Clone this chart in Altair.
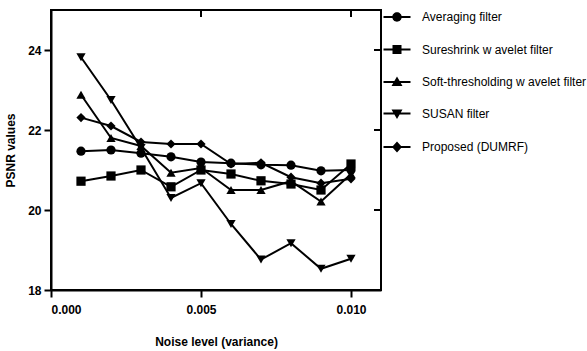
import altair as alt
import pandas as pd

# Noise variance levels and PSNR of each filter
noise = [0.001, 0.002, 0.003, 0.004, 0.005, 0.006, 0.007, 0.008, 0.009, 0.010]
averaging = [21.47, 21.50, 21.42, 21.33, 21.20, 21.17, 21.13, 21.12, 20.98, 21.00]
sureshrink = [20.72, 20.85, 21.00, 20.58, 21.00, 20.90, 20.73, 20.65, 20.50, 21.15]
soft_thresh = [22.88, 21.80, 21.60, 20.93, 21.05, 20.50, 20.50, 20.72, 20.21, 20.90]
susan = [23.82, 22.75, 21.55, 20.30, 20.67, 19.65, 18.76, 19.17, 18.53, 18.78]
proposed = [22.31, 22.10, 21.70, 21.65, 21.65, 21.15, 21.18, 20.82, 20.67, 20.78]

methods = [
    "Averaging filter",
    "Sureshrink w avelet filter",
    "Soft-thresholding w avelet  filter",
    "SUSAN filter",
    "Proposed (DUMRF)",
]
series = [averaging, sureshrink, soft_thresh, susan, proposed]

x_ticks = [0.0, 0.005, 0.010]
y_ticks = [18, 20, 22, 24]

rows = []
for name, vals in zip(methods, series):
    for n, v in zip(noise, vals):
        rows.append({"noise": n, "psnr": v, "method": name})
df = pd.DataFrame(rows)

marker_shapes = ["circle", "square", "triangle-up", "triangle-down", "diamond"]
# legend glyphs: a thin filled bar (the line) with the marker in the middle,
# every sub-path wound clockwise so the filled union stays solid
BAR = "M-1.35,-0.1H1.35V0.1H-1.35Z"
legend_shapes = [
    BAR + "M0.47,0A0.47,0.47,0,1,1,-0.47,0A0.47,0.47,0,1,1,0.47,0Z",
    BAR + "M-0.45,-0.45H0.45V0.45H-0.45Z",
    BAR + "M0,-0.55L0.55,0.4H-0.55Z",
    BAR + "M0,0.55L-0.55,-0.4H0.55Z",
    BAR + "M0,-0.55L0.5,0L0,0.55L-0.5,0Z",
]

FONT = "Liberation Sans"
x_dom = alt.Scale(domain=[0, 0.011], nice=False, zero=False)
y_dom = alt.Scale(domain=[18, 25], nice=False, zero=False)

axis_style = dict(
    grid=False,
    domainColor="black",
    domainWidth=2,
    tickColor="black",
    tickWidth=2,
    tickSize=7,
    labelFont=FONT,
    labelFontWeight="bold",
    labelFontSize=12,
    labelColor="black",
    titleFont=FONT,
    titleFontWeight="bold",
    titleFontSize=12,
    titleColor="black",
)

X = alt.X(
    "noise:Q",
    scale=x_dom,
    axis=alt.Axis(
        values=x_ticks, format=".3f", title="Noise level (variance)",
        labelPadding=7, titlePadding=21, **axis_style,
    ),
)
Y = alt.Y(
    "psnr:Q",
    scale=y_dom,
    axis=alt.Axis(
        values=y_ticks, format="d", title="PSNR values",
        labelPadding=3, titlePadding=10, **axis_style,
    ),
)

base = alt.Chart(df)

lines = base.mark_line(color="black", strokeWidth=2).encode(
    x=X, y=Y, detail="method:N"
)

# one marker layer per filter, each with its own symbol
marker_layers = [
    base.transform_filter(alt.datum.method == name)
    .mark_point(shape=shape, filled=True, color="black", opacity=1, size=85)
    .encode(x=X, y=Y)
    for name, shape in zip(methods, marker_shapes)
]

# inward ticks on the top and right edges of the frame
top_ticks = (
    alt.Chart(pd.DataFrame({"noise": x_ticks[1:]}))
    .mark_rule(color="black", strokeWidth=2)
    .encode(x=X, y=alt.value(0), y2=alt.value(7))
)
right_ticks = (
    alt.Chart(pd.DataFrame({"psnr": y_ticks[1:]}))
    .mark_rule(color="black", strokeWidth=2)
    .encode(y=Y, x=alt.value(323), x2=alt.value(330))
)

legend_layer = (
    base.transform_filter("false")
    .mark_point(filled=True, color="black", opacity=1, size=400)
    .encode(
        x=X,
        y=Y,
        shape=alt.Shape(
            "method:N",
            scale=alt.Scale(domain=methods, range=legend_shapes),
            legend=alt.Legend(
                title=None, orient="none", legendX=335, legendY=-4,
                symbolSize=400, symbolFillColor="black",
                symbolOpacity=1, labelOffset=14,
                labelFont=FONT, labelFontSize=12, labelColor="black",
                rowPadding=13.5, padding=0, labelLimit=300,
            ),
        ),
    )
)

chart = (
    alt.layer(lines, *marker_layers, top_ticks, right_ticks, legend_layer)
    .properties(
        width=330,
        height=280,
        background="white",
        autosize=alt.AutoSizeParams(type="none"),
        padding={"left": 51, "top": 10, "right": 206, "bottom": 61},
    )
    .configure_view(stroke="black", strokeWidth=2)
)

chart.save("out.html", embed_options={"renderer": "svg", "actions": False})
